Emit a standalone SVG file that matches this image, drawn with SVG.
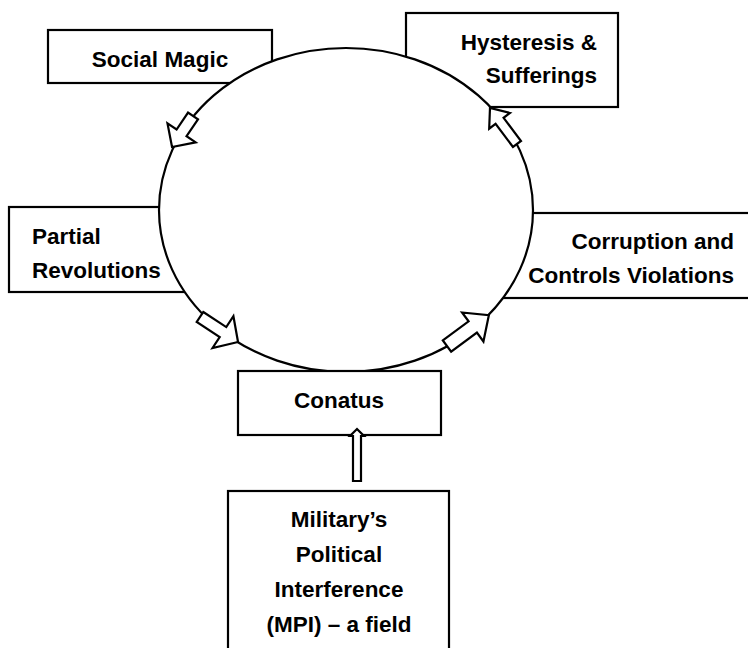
<svg xmlns="http://www.w3.org/2000/svg" width="748" height="648" viewBox="0 0 748 648">
<style>
.box{fill:#fff;stroke:#000;stroke-width:2.2}
.t{font-family:"Liberation Sans",Arial,sans-serif;font-weight:bold;font-size:22.5px;fill:#000}
.arr{fill:#fff;stroke:#000;stroke-width:2.2;stroke-linejoin:miter}
</style>
<rect width="748" height="648" fill="#fff"/>
<g id="social-magic">
<rect class="box" x="48" y="30" width="224" height="53"/>
<text class="t" x="160" y="67" text-anchor="middle">Social Magic</text>
</g>
<g id="hysteresis">
<rect class="box" x="406" y="13" width="212" height="94"/>
<text class="t" x="597" y="50" text-anchor="end">Hysteresis &amp;</text>
<text class="t" x="597" y="83" text-anchor="end">Sufferings</text>
</g>
<g id="partial-revolutions">
<rect class="box" x="9" y="207" width="186" height="85"/>
<text class="t" x="32" y="244">Partial</text>
<text class="t" x="32" y="278">Revolutions</text>
</g>
<g id="corruption">
<rect class="box" x="500" y="213" width="260" height="85"/>
<text class="t" x="734" y="249" text-anchor="end">Corruption and</text>
<text class="t" x="734" y="283" text-anchor="end">Controls Violations</text>
</g>
<g id="cycle">
<ellipse cx="346" cy="210" rx="187" ry="162" fill="#fff" stroke="#000" stroke-width="2.2"/>
</g>
<g id="conatus">
<rect class="box" x="238" y="371" width="203" height="64"/>
<text class="t" x="339" y="408" text-anchor="middle">Conatus</text>
</g>
<g id="mpi">
<rect class="box" x="228" y="491" width="221" height="170"/>
<text class="t" x="339" y="527" text-anchor="middle">Military’s</text>
<text class="t" x="339" y="562" text-anchor="middle">Political</text>
<text class="t" x="339" y="597" text-anchor="middle">Interference</text>
<text class="t" x="339" y="632" text-anchor="middle">(MPI) – a field</text>
</g>
<g id="connectors">
<polygon class="arr" transform="translate(193,116) rotate(124.1)" points="0,-6 20.4,-6 20.4,-17 37.4,0 20.4,17 20.4,6 0,6"/>
<polygon class="arr" transform="translate(517,144) rotate(-126.9)" points="0,-5 29,-5 29,-13 45,0 29,13 29,5 0,5"/>
<polygon class="arr" transform="translate(200,317) rotate(33.3)" points="0,-6 27.5,-6 27.5,-19 45.5,0 27.5,19 27.5,6 0,6"/>
<polygon class="arr" transform="translate(447,346) rotate(-36.4)" points="0,-7 32,-7 32,-18 52,0 32,18 32,7 0,7"/>
<polygon class="arr" points="353,481 361,481 361,436 364,436 357,429 350,436 353,436"/>
</g>
</svg>
